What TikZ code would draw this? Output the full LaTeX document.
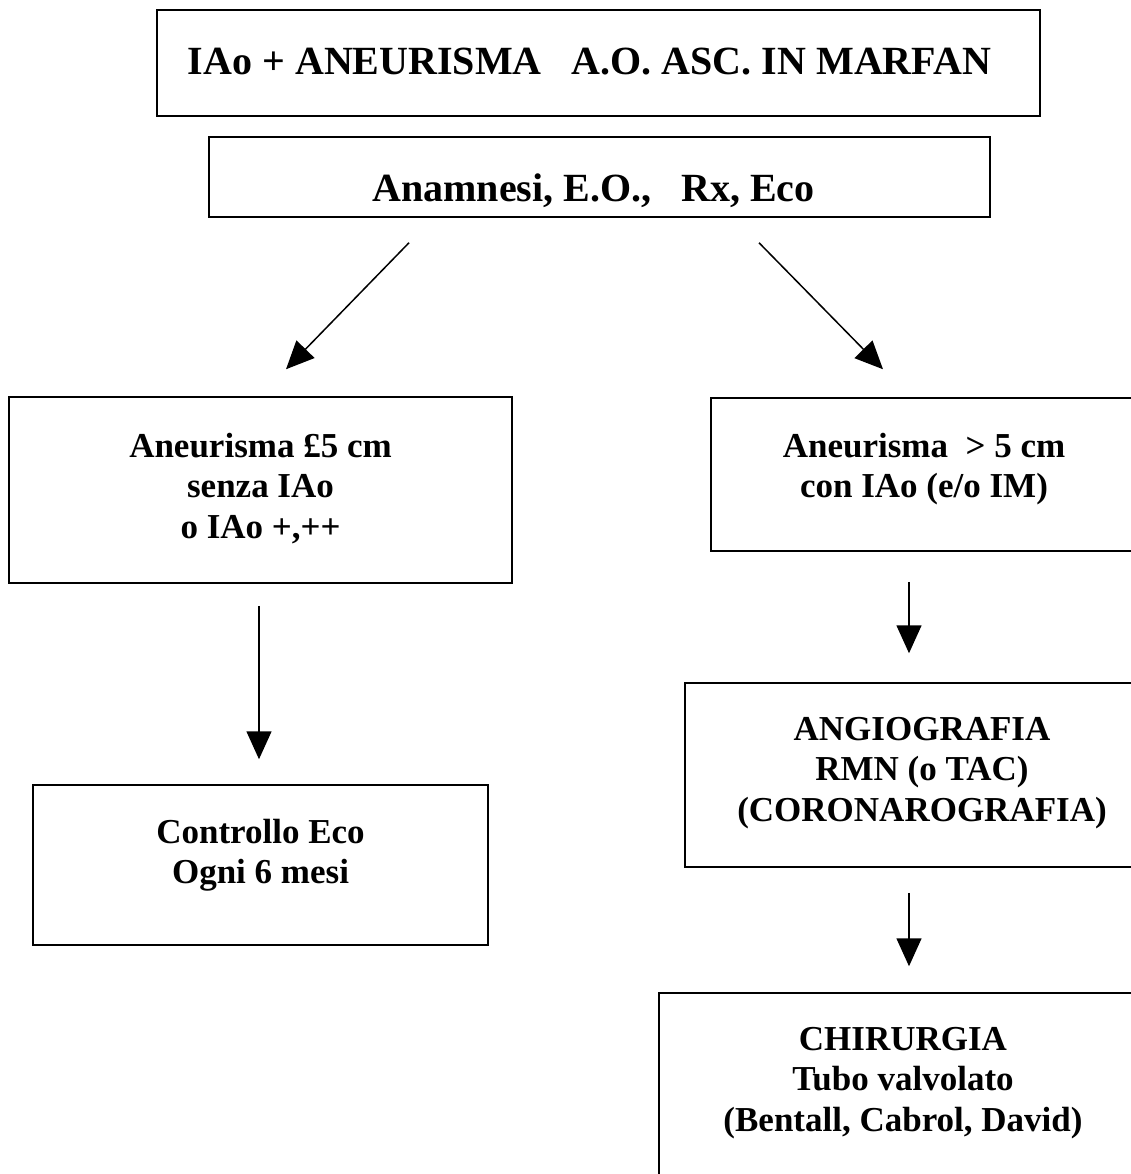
\documentclass[tikz,border=0pt]{standalone}
\usepackage{fontspec}
\setmainfont{Liberation Serif}
\usepackage{tikz}
\usetikzlibrary{positioning, arrows.meta}
\tikzset{
->, % all connectors are arrows
>={Triangle[length=28pt,width=25pt]}, % big filled heads
}

\begin{document}
\begin{tikzpicture}[x=1pt, y=-1pt, line width=1.5pt,
    main/.style = {draw, rectangle, inner sep=0pt},
    txt/.style = {align=center, inner sep=0pt, font=\bfseries\fontsize{35}{40.5}\selectfont},
    big/.style = {txt, font=\bfseries\fontsize{40}{45}\selectfont}]
    \useasboundingbox (0,0) rectangle (1131,1174);
    \clip (0,0) rectangle (1131,1174);

    \node[main, minimum width=883pt, minimum height=106pt] (1) at (598.5,63) {};
    \node[main, minimum width=781pt, minimum height=80pt] (2) at (599.5,177) {};
    \node[main, minimum width=503pt, minimum height=186pt] (3) at (260.5,490) {};
    \node[main, minimum width=426pt, minimum height=153pt] (4) at (924,474.5) {};
    \node[main, minimum width=455pt, minimum height=160pt] (5) at (260.5,865) {};
    \node[main, minimum width=474pt, minimum height=184pt] (6) at (922,775) {};
    \node[main, minimum width=488pt, minimum height=182pt] (7) at (903,1084) {};

    \node[big] (t1) [below=38pt of 1.north, xshift=-9pt] {IAo + ANEURISMA~~~A.O. ASC. IN MARFAN};
    \node[big] (t2) [below=37pt of 2.north, xshift=-6pt] {Anamnesi, E.O.,~~~Rx, Eco};
    \node[txt] (t3) [below=36pt of 3.north] {Aneurisma £5 cm\\ senza IAo\\ o IAo +,++};
    \node[txt] (t4) [below=35pt of 4.north] {Aneurisma~~\textgreater{} 5 cm\\ con IAo (e/o IM)};
    \node[txt] (t5) [below=34pt of 5.north] {Controllo Eco\\ Ogni 6 mesi};
    \node[txt] (t6) [below=34pt of 6.north] {ANGIOGRAFIA\\ RMN (o TAC)\\ (CORONAROGRAFIA)};
    \node[txt] (t7) [below=34pt of 7.north] {CHIRURGIA\\ Tubo valvolato\\ (Bentall, Cabrol, David)};

    \draw ([shift={(-190.5,25)}]2.south) -- ([shift={(25.5,-27)}]3.north);
    \draw ([shift={(159.5,25)}]2.south) -- ([shift={(-41,-28)}]4.north);
    \draw ([shift={(-1.5,22)}]3.south) -- ([shift={(-1.5,-25)}]5.north);
    \draw ([shift={(-15,30)}]4.south) -- ([shift={(-13,-29)}]6.north);
    \draw ([shift={(-13,25)}]6.south) -- ([shift={(6,-26)}]7.north);
\end{tikzpicture}
\end{document}
